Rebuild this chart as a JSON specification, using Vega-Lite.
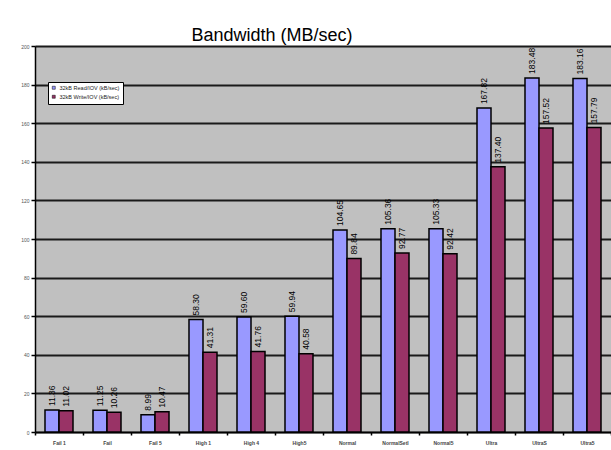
{
  "$schema": "https://vega.github.io/schema/vega-lite/v6.json",
  "width": 576,
  "height": 386,
  "autosize": {"type": "none"},
  "padding": {"left": 35, "top": 46, "right": 0, "bottom": 18},
  "background": "#ffffff",
  "title": {
    "text": "Bandwidth (MB/sec)",
    "anchor": "middle",
    "dx": -51,
    "offset": -15,
    "baseline": "alphabetic",
    "font": "Liberation Sans",
    "fontSize": 18,
    "fontWeight": "normal",
    "color": "#000000"
  },
  "data": {
    "values": [
      {"test": "Fail 1", "op": "32kB Read/IOV (kB/sec)", "mbps": 11.36},
      {"test": "Fail 1", "op": "32kB Write/IOV (kB/sec)", "mbps": 11.02},
      {"test": "Fail", "op": "32kB Read/IOV (kB/sec)", "mbps": 11.25},
      {"test": "Fail", "op": "32kB Write/IOV (kB/sec)", "mbps": 10.26},
      {"test": "Fail 5", "op": "32kB Read/IOV (kB/sec)", "mbps": 8.99},
      {"test": "Fail 5", "op": "32kB Write/IOV (kB/sec)", "mbps": 10.47},
      {"test": "High 1", "op": "32kB Read/IOV (kB/sec)", "mbps": 58.30},
      {"test": "High 1", "op": "32kB Write/IOV (kB/sec)", "mbps": 41.31},
      {"test": "High 4", "op": "32kB Read/IOV (kB/sec)", "mbps": 59.60},
      {"test": "High 4", "op": "32kB Write/IOV (kB/sec)", "mbps": 41.76},
      {"test": "High5", "op": "32kB Read/IOV (kB/sec)", "mbps": 59.94},
      {"test": "High5", "op": "32kB Write/IOV (kB/sec)", "mbps": 40.58},
      {"test": "Normal", "op": "32kB Read/IOV (kB/sec)", "mbps": 104.65},
      {"test": "Normal", "op": "32kB Write/IOV (kB/sec)", "mbps": 89.84},
      {"test": "NormalSetl", "op": "32kB Read/IOV (kB/sec)", "mbps": 105.36},
      {"test": "NormalSetl", "op": "32kB Write/IOV (kB/sec)", "mbps": 92.77},
      {"test": "Normal5", "op": "32kB Read/IOV (kB/sec)", "mbps": 105.33},
      {"test": "Normal5", "op": "32kB Write/IOV (kB/sec)", "mbps": 92.42},
      {"test": "Ultra", "op": "32kB Read/IOV (kB/sec)", "mbps": 167.82},
      {"test": "Ultra", "op": "32kB Write/IOV (kB/sec)", "mbps": 137.40},
      {"test": "UltraS", "op": "32kB Read/IOV (kB/sec)", "mbps": 183.48},
      {"test": "UltraS", "op": "32kB Write/IOV (kB/sec)", "mbps": 157.52},
      {"test": "Ultra5", "op": "32kB Read/IOV (kB/sec)", "mbps": 183.16},
      {"test": "Ultra5", "op": "32kB Write/IOV (kB/sec)", "mbps": 157.79}
    ]
  },
  "encoding": {
    "x": {
      "field": "test",
      "type": "nominal",
      "sort": null,
      "scale": {"paddingInner": 0, "paddingOuter": 0},
      "axis": {
        "title": null,
        "labelAngle": 0,
        "labelFontSize": 5,
        "labelFontWeight": "bold",
        "labelColor": "#444444",
        "labelPadding": 5,
        "tickBand": "extent",
        "tickSize": 3,
        "tickColor": "#000000",
        "tickWidth": 1.5,
        "domainColor": "#000000",
        "domainWidth": 1.5,
        "grid": false
      }
    },
    "xOffset": {
      "field": "op",
      "type": "nominal",
      "sort": null,
      "scale": {"paddingInner": 0, "paddingOuter": 0.714}
    },
    "y": {
      "field": "mbps",
      "type": "quantitative",
      "scale": {"domain": [0, 200], "nice": false},
      "axis": {
        "title": null,
        "values": [0, 20, 40, 60, 80, 100, 120, 140, 160, 180, 200],
        "labelFontSize": 5,
        "labelColor": "#555555",
        "labelPadding": 2,
        "tickSize": 4,
        "tickColor": "#000000",
        "tickWidth": 1.5,
        "domainColor": "#000000",
        "domainWidth": 1.5,
        "grid": true,
        "gridColor": "#1a1a1a",
        "gridWidth": 2
      }
    }
  },
  "layer": [
    {
      "mark": {"type": "bar", "stroke": "#000000", "strokeWidth": 1.5},
      "encoding": {
        "color": {
          "field": "op",
          "type": "nominal",
          "sort": null,
          "scale": {"range": ["#9999ff", "#993366"]},
          "legend": {
            "title": null,
            "orient": "none",
            "legendX": 13,
            "legendY": 36,
            "direction": "vertical",
            "fillColor": "#ffffff",
            "strokeColor": "#000000",
            "padding": 3,
            "rowPadding": 2,
            "symbolType": "square",
            "symbolSize": 9,
            "symbolStrokeColor": "#000000",
            "symbolStrokeWidth": 0.5,
            "labelFontSize": 5.5,
            "labelFont": "Liberation Sans",
            "labelColor": "#222222",
            "labelOffset": 3
          }
        }
      }
    },
    {
      "mark": {
        "type": "text",
        "angle": 270,
        "align": "left",
        "baseline": "middle",
        "dx": 4,
        "fontSize": 8.5,
        "font": "Liberation Sans",
        "color": "#000000"
      },
      "encoding": {
        "text": {"field": "mbps", "type": "quantitative", "format": ".2f"}
      }
    }
  ],
  "config": {
    "font": "Liberation Sans",
    "view": {"fill": "#c0c0c0", "stroke": null},
    "axis": {"labelFont": "Liberation Sans"}
  }
}
